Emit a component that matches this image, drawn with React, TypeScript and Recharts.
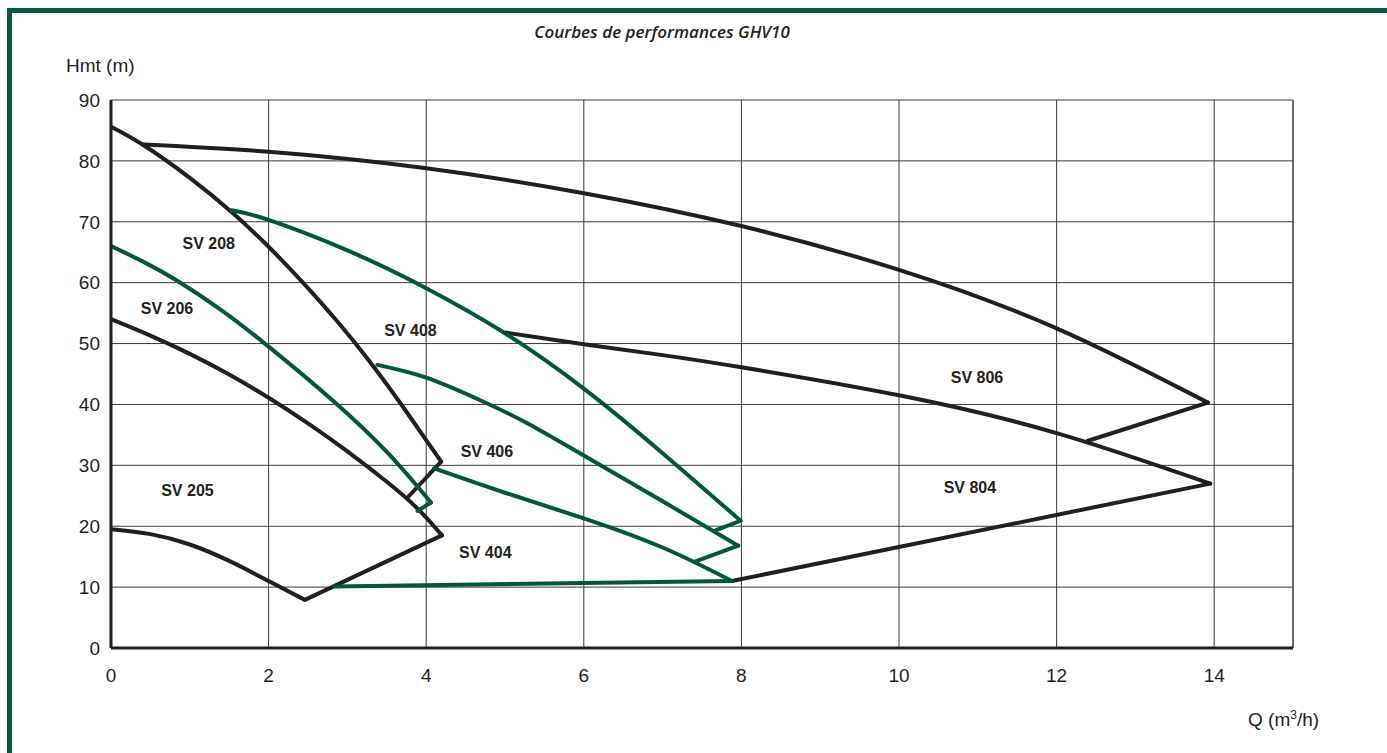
import React from "react";
import {
  ComposedChart,
  Line,
  Scatter,
  XAxis,
  YAxis,
  CartesianGrid,
  ReferenceLine,
} from "recharts";

// Q (m3/h) / Hmt (m)
const sv205Low = [
  { q: 0, h: 19.5 },
  { q: 0.5, h: 18.7 },
  { q: 1, h: 17.0 },
  { q: 1.5, h: 14.3 },
  { q: 2, h: 11.0 },
  { q: 2.46, h: 7.9 },
];
const sv205Right = [
  { q: 2.46, h: 7.9 },
  { q: 4.2, h: 18.5 },
];
const sv206Black = [
  { q: 0, h: 54 },
  { q: 0.5, h: 51.3 },
  { q: 1, h: 48.3 },
  { q: 1.5, h: 44.9 },
  { q: 2, h: 41.1 },
  { q: 2.5, h: 36.9 },
  { q: 3, h: 32.3 },
  { q: 3.5, h: 27.3 },
  { q: 3.89, h: 22.9 },
  { q: 4.2, h: 18.5 },
];
const sv206Green = [
  { q: 0, h: 66 },
  { q: 0.4, h: 63.5 },
  { q: 0.83, h: 60.4 },
  { q: 1.4, h: 55.5 },
  { q: 2, h: 49.5 },
  { q: 2.81, h: 40.7 },
  { q: 3.5, h: 32.2 },
  { q: 4.06, h: 23.9 },
];
const sv206GreenEnd = [
  { q: 4.06, h: 23.9 },
  { q: 3.89, h: 22.5 },
];
const sv208 = [
  { q: 0, h: 85.6 },
  { q: 0.41, h: 82.6 },
  { q: 1, h: 77.2 },
  { q: 1.53, h: 71.6 },
  { q: 2, h: 65.9 },
  { q: 2.5, h: 59.1 },
  { q: 2.9, h: 53.2 },
  { q: 3.28, h: 47.1 },
  { q: 3.7, h: 39.7 },
  { q: 4.19, h: 30.6 },
];
const sv208End = [
  { q: 4.19, h: 30.6 },
  { q: 3.77, h: 24.8 },
];
const sv408 = [
  { q: 1.53, h: 71.9 },
  { q: 2, h: 70.3 },
  { q: 3, h: 65.3 },
  { q: 4, h: 59.1 },
  { q: 5, h: 51.7 },
  { q: 6, h: 42.6 },
  { q: 7, h: 32.0 },
  { q: 7.99, h: 20.9 },
];
const sv408End = [
  { q: 7.99, h: 20.9 },
  { q: 7.67, h: 19.3 },
];
const sv406 = [
  { q: 3.38, h: 46.5 },
  { q: 4, h: 44.4 },
  { q: 4.7, h: 40.6 },
  { q: 5.3, h: 36.8 },
  { q: 6, h: 31.6 },
  { q: 7, h: 24.1 },
  { q: 7.96, h: 16.8 },
];
const sv406End = [
  { q: 7.96, h: 16.8 },
  { q: 7.41, h: 14.2 },
];
const sv404 = [
  { q: 4.1, h: 29.5 },
  { q: 5, h: 25.5 },
  { q: 6, h: 21.3 },
  { q: 7, h: 16.5 },
  { q: 7.88, h: 11 },
];
const sv404Low = [
  { q: 2.84, h: 10.1 },
  { q: 7.88, h: 11 },
];
const sv806 = [
  { q: 0.41, h: 82.7 },
  { q: 2, h: 81.5 },
  { q: 3.93, h: 78.9 },
  { q: 6, h: 74.7 },
  { q: 8, h: 69.3 },
  { q: 10, h: 62.1 },
  { q: 12, h: 52.5 },
  { q: 13.92, h: 40.3 },
];
const sv806End = [
  { q: 13.92, h: 40.3 },
  { q: 12.39, h: 34 },
];
const sv804 = [
  { q: 5.01, h: 51.8 },
  { q: 6, h: 49.9 },
  { q: 7, h: 48.1 },
  { q: 8, h: 46.1 },
  { q: 10, h: 41.5 },
  { q: 12, h: 35.3 },
  { q: 13.95, h: 27 },
];
const sv804Low = [
  { q: 13.95, h: 27 },
  { q: 7.88, h: 11 },
];

const modelLabels = [
  { q: 1.24, h: 66.5, name: "SV 208" },
  { q: 0.71, h: 55.7, name: "SV 206" },
  { q: 3.8, h: 52.1, name: "SV 408" },
  { q: 10.99, h: 44.5, name: "SV 806" },
  { q: 4.77, h: 32.2, name: "SV 406" },
  { q: 0.97, h: 25.8, name: "SV 205" },
  { q: 10.9, h: 26.4, name: "SV 804" },
  { q: 4.75, h: 15.7, name: "SV 404" },
];

const xTicks = [0, 2, 4, 6, 8, 10, 12, 14];
const yTicks = [0, 10, 20, 30, 40, 50, 60, 70, 80, 90];

const BLACK = "#231f20";
const GREEN = "#00573f";

const curves = [
  { id: "sv205Low", data: sv205Low, color: BLACK, smooth: true },
  { id: "sv205Right", data: sv205Right, color: BLACK, smooth: false },
  { id: "sv206Black", data: sv206Black, color: BLACK, smooth: true },
  { id: "sv208", data: sv208, color: BLACK, smooth: true },
  { id: "sv208End", data: sv208End, color: BLACK, smooth: false },
  { id: "sv806", data: sv806, color: BLACK, smooth: true },
  { id: "sv806End", data: sv806End, color: BLACK, smooth: false },
  { id: "sv804", data: sv804, color: BLACK, smooth: true },
  { id: "sv804Low", data: sv804Low, color: BLACK, smooth: false },
  { id: "sv206Green", data: sv206Green, color: GREEN, smooth: true },
  { id: "sv206GreenEnd", data: sv206GreenEnd, color: GREEN, smooth: false },
  { id: "sv408", data: sv408, color: GREEN, smooth: true },
  { id: "sv408End", data: sv408End, color: GREEN, smooth: false },
  { id: "sv406", data: sv406, color: GREEN, smooth: true },
  { id: "sv406End", data: sv406End, color: GREEN, smooth: false },
  { id: "sv404", data: sv404, color: GREEN, smooth: true },
  { id: "sv404Low", data: sv404Low, color: GREEN, smooth: false },
];

const tickStyle = {
  fontFamily: "'Liberation Sans', Arial, sans-serif",
  fontSize: 19,
  fill: BLACK,
};

const LabelShape = (props: any) => (
  <text
    x={props.cx}
    y={props.cy}
    textAnchor="middle"
    dominantBaseline="central"
    fontFamily="'Liberation Sans', Arial, sans-serif"
    fontWeight="bold"
    fontSize={16}
    fill={BLACK}
  >
    {props.payload.name}
  </text>
);

const App = () => {
  return (
    <div style={{ position: "relative", width: 1387, height: 753, overflow: "hidden", background: "#fff" }}>
      <style>{`body{margin:0;}`}</style>
      <div
        style={{
          position: "absolute",
          left: 7,
          top: 8,
          width: 1400,
          height: 800,
          borderTop: "5px solid #0a5a42",
          borderLeft: "5px solid #0a5a42",
        }}
      />
      <ComposedChart
        width={1387}
        height={753}
        margin={{ top: 100, right: 94, bottom: 75, left: 0 }}
        style={{ position: "absolute", left: 0, top: 0 }}
      >
        <CartesianGrid stroke="#3a3a3a" strokeWidth={1} />
        <XAxis
          type="number"
          dataKey="q"
          domain={[0, 15]}
          ticks={xTicks}
          height={30}
          tickLine={false}
          tickSize={6}
          tickMargin={15}
          axisLine={{ stroke: BLACK, strokeWidth: 3 }}
          tick={tickStyle}
          allowDataOverflow
        />
        <YAxis
          type="number"
          dataKey="h"
          domain={[0, 90]}
          ticks={yTicks}
          width={111}
          tickLine={false}
          tickSize={6}
          tickMargin={5}
          axisLine={{ stroke: BLACK, strokeWidth: 3 }}
          tick={tickStyle}
        />
        <ReferenceLine x={15} stroke="#3a3a3a" strokeWidth={1} />
        {curves.map((c) => (
          <Line
            key={c.id}
            data={c.data}
            dataKey="h"
            type={c.smooth ? "natural" : "linear"}
            stroke={c.color}
            strokeWidth={4}
            strokeLinecap="round"
            strokeLinejoin="round"
            dot={false}
            activeDot={false}
            isAnimationActive={false}
          />
        ))}
        <Scatter data={modelLabels} dataKey="h" shape={LabelShape} isAnimationActive={false} />
      </ComposedChart>
      <svg
        width={1387}
        height={753}
        style={{ position: "absolute", left: 0, top: 0, pointerEvents: "none" }}
      >
        <text
          x={662}
          y={38}
          textAnchor="middle"
          fontFamily="'Open Sans', sans-serif"
          fontStyle="italic"
          fontWeight={600}
          fontSize={17}
          fill={BLACK}
        >
          Courbes de performances GHV10
        </text>
        <text x={66} y={72} fontFamily="'Liberation Sans', Arial, sans-serif" fontSize={19} fill={BLACK}>
          Hmt (m)
        </text>
        <text x={1248} y={726} fontFamily="'Liberation Sans', Arial, sans-serif" fontSize={19} fill={BLACK}>
          Q (m<tspan dy={-7} fontSize={12}>3</tspan>
          <tspan dy={7}>/h)</tspan>
        </text>
      </svg>
    </div>
  );
};

export default App;
